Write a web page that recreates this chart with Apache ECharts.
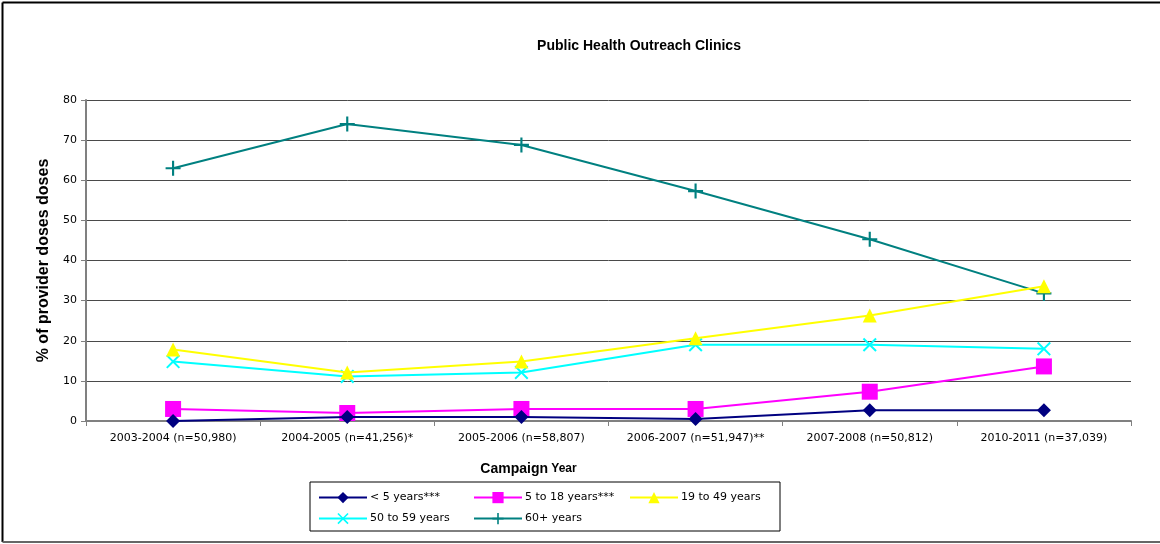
<!DOCTYPE html>
<html>
<head>
<meta charset="utf-8">
<script src="https://cdn.jsdelivr.net/npm/echarts@6/dist/echarts.min.js"></script>
<style>
html,body{margin:0;padding:0;background:#fff;}
#chart{width:1160px;height:544px;}
</style>
</head>
<body>
<div id="chart"></div>
<script>
const categories = ["2003-2004 (n=50,980)", "2004-2005 (n=41,256)*", "2005-2006 (n=58,807)", "2006-2007 (n=51,947)**", "2007-2008 (n=50,812)", "2010-2011 (n=37,039)"];
const seriesNames = ["< 5 years***", "5 to 18 years***", "19 to 49 years", "50 to 59 years", "60+ years"];
const under5 = [0, 1, 1, 0.5, 2.7, 2.7];
const age5to18 = [3, 2, 3, 3, 7.3, 13.6];
const age19to49 = [17.8, 12.1, 14.8, 20.6, 26.3, 33.6];
const age50to59 = [14.8, 11.1, 12.1, 19, 19, 18];
const age60plus = [63, 74, 68.8, 57.3, 45.3, 31.8];
const yTicks = [0, 10, 20, 30, 40, 50, 60, 70, 80];

const font = "Liberation Sans, Arial, sans-serif";
const wideFont = "DejaVu Sans, Verdana, sans-serif";
const xPath = "path://M0,1L1,0L5,4L9,0L10,1L6,5L10,9L9,10L5,6L1,10L0,9L4,5Z";
const plusPath = "path://M6,0H8V6H14V8H8V14H6V8H0V6H6Z";

const styles = [
  {color:"#000080", symbol:"diamond", size:14},
  {color:"#ff00ff", symbol:"rect", size:16},
  {color:"#ffff00", symbol:"triangle", size:14},
  {color:"#00ffff", symbol:xPath, size:14},
  {color:"#008080", symbol:plusPath, size:15}
];
const dataArr = [under5, age5to18, age19to49, age50to59, age60plus];

const series = seriesNames.map((n, i) => ({
  name: n, type: "line", data: dataArr[i],
  symbol: styles[i].symbol, symbolSize: styles[i].size,
  showAllSymbol: true,
  lineStyle: {color: styles[i].color, width: 2},
  itemStyle: {color: styles[i].color},
  emphasis: {disabled: true},
  z: 10 - i
}));

const legendPos = [[313, 487], [468, 487], [624, 487], [313, 508], [468, 508]];
const legends = seriesNames.map((n, i) => ({
  data: [n], left: legendPos[i][0], top: legendPos[i][1],
  itemWidth: 48, itemHeight: 14, itemGap: 4,
  textStyle: {fontFamily: wideFont, fontSize: 11, color: "#000", padding: [0, 0, 0, -2]},
  selectedMode: false
}));

const chart = echarts.init(document.getElementById("chart"));
chart.setOption({
  animation: false,
  backgroundColor: "#fff",
  title: {
    text: "Public Health Outreach Clinics", left: 634, top: 34, textAlign: "center",
    textStyle: {fontFamily: font, fontSize: 14, fontWeight: "bold", color: "#000"}
  },
  legend: legends,
  grid: {left: 86, right: 29, top: 100, bottom: 123},
  xAxis: {
    type: "category", data: categories, boundaryGap: true,
    axisLine: {lineStyle: {color: "#808080", width: 2}},
    axisTick: {show: true, alignWithLabel: false, length: 5, lineStyle: {color: "#808080", width: 1}},
    axisLabel: {fontFamily: wideFont, fontSize: 11, color: "#000", margin: 12, interval: 0},
    name: "{a|Campaign} {b|Year}", nameLocation: "middle", nameGap: 41,
    nameTextStyle: {padding: [0, 160, 0, 0], rich: {
      a: {fontFamily: font, fontSize: 14, fontWeight: "bold", color: "#000"},
      b: {fontFamily: font, fontSize: 12, fontWeight: "bold", color: "#000"}
    }}
  },
  yAxis: {
    type: "value", min: 0, max: 80, interval: 10,
    axisLine: {show: true, lineStyle: {color: "#808080", width: 2}},
    axisTick: {show: true, length: 5, lineStyle: {color: "#808080"}},
    axisLabel: {fontFamily: wideFont, fontSize: 11, color: "#000", margin: 9,
      formatter: v => yTicks.includes(v) ? String(v) : ""},
    splitLine: {lineStyle: {color: "#4a4a4a", width: 1}},
    name: "% of provider doses doses", nameLocation: "middle", nameGap: 34, nameRotate: 90,
    nameTextStyle: {fontFamily: font, fontSize: 16, fontWeight: "bold", color: "#000"}
  },
  graphic: [
    {type: "rect", shape: {x: 310, y: 482, width: 470, height: 49},
     style: {fill: "none", stroke: "#000", lineWidth: 1}, z: -1},
    {type: "line", shape: {x1: 2.5, y1: 2.5, x2: 1160, y2: 2.5}, style: {stroke: "#000", lineWidth: 2}},
    {type: "line", shape: {x1: 2.5, y1: 2.5, x2: 2.5, y2: 542}, style: {stroke: "#000", lineWidth: 2}},
    {type: "line", shape: {x1: 2.5, y1: 542, x2: 1160, y2: 542}, style: {stroke: "#666", lineWidth: 2}}
  ],
  series: series
});
</script>
</body>
</html>
